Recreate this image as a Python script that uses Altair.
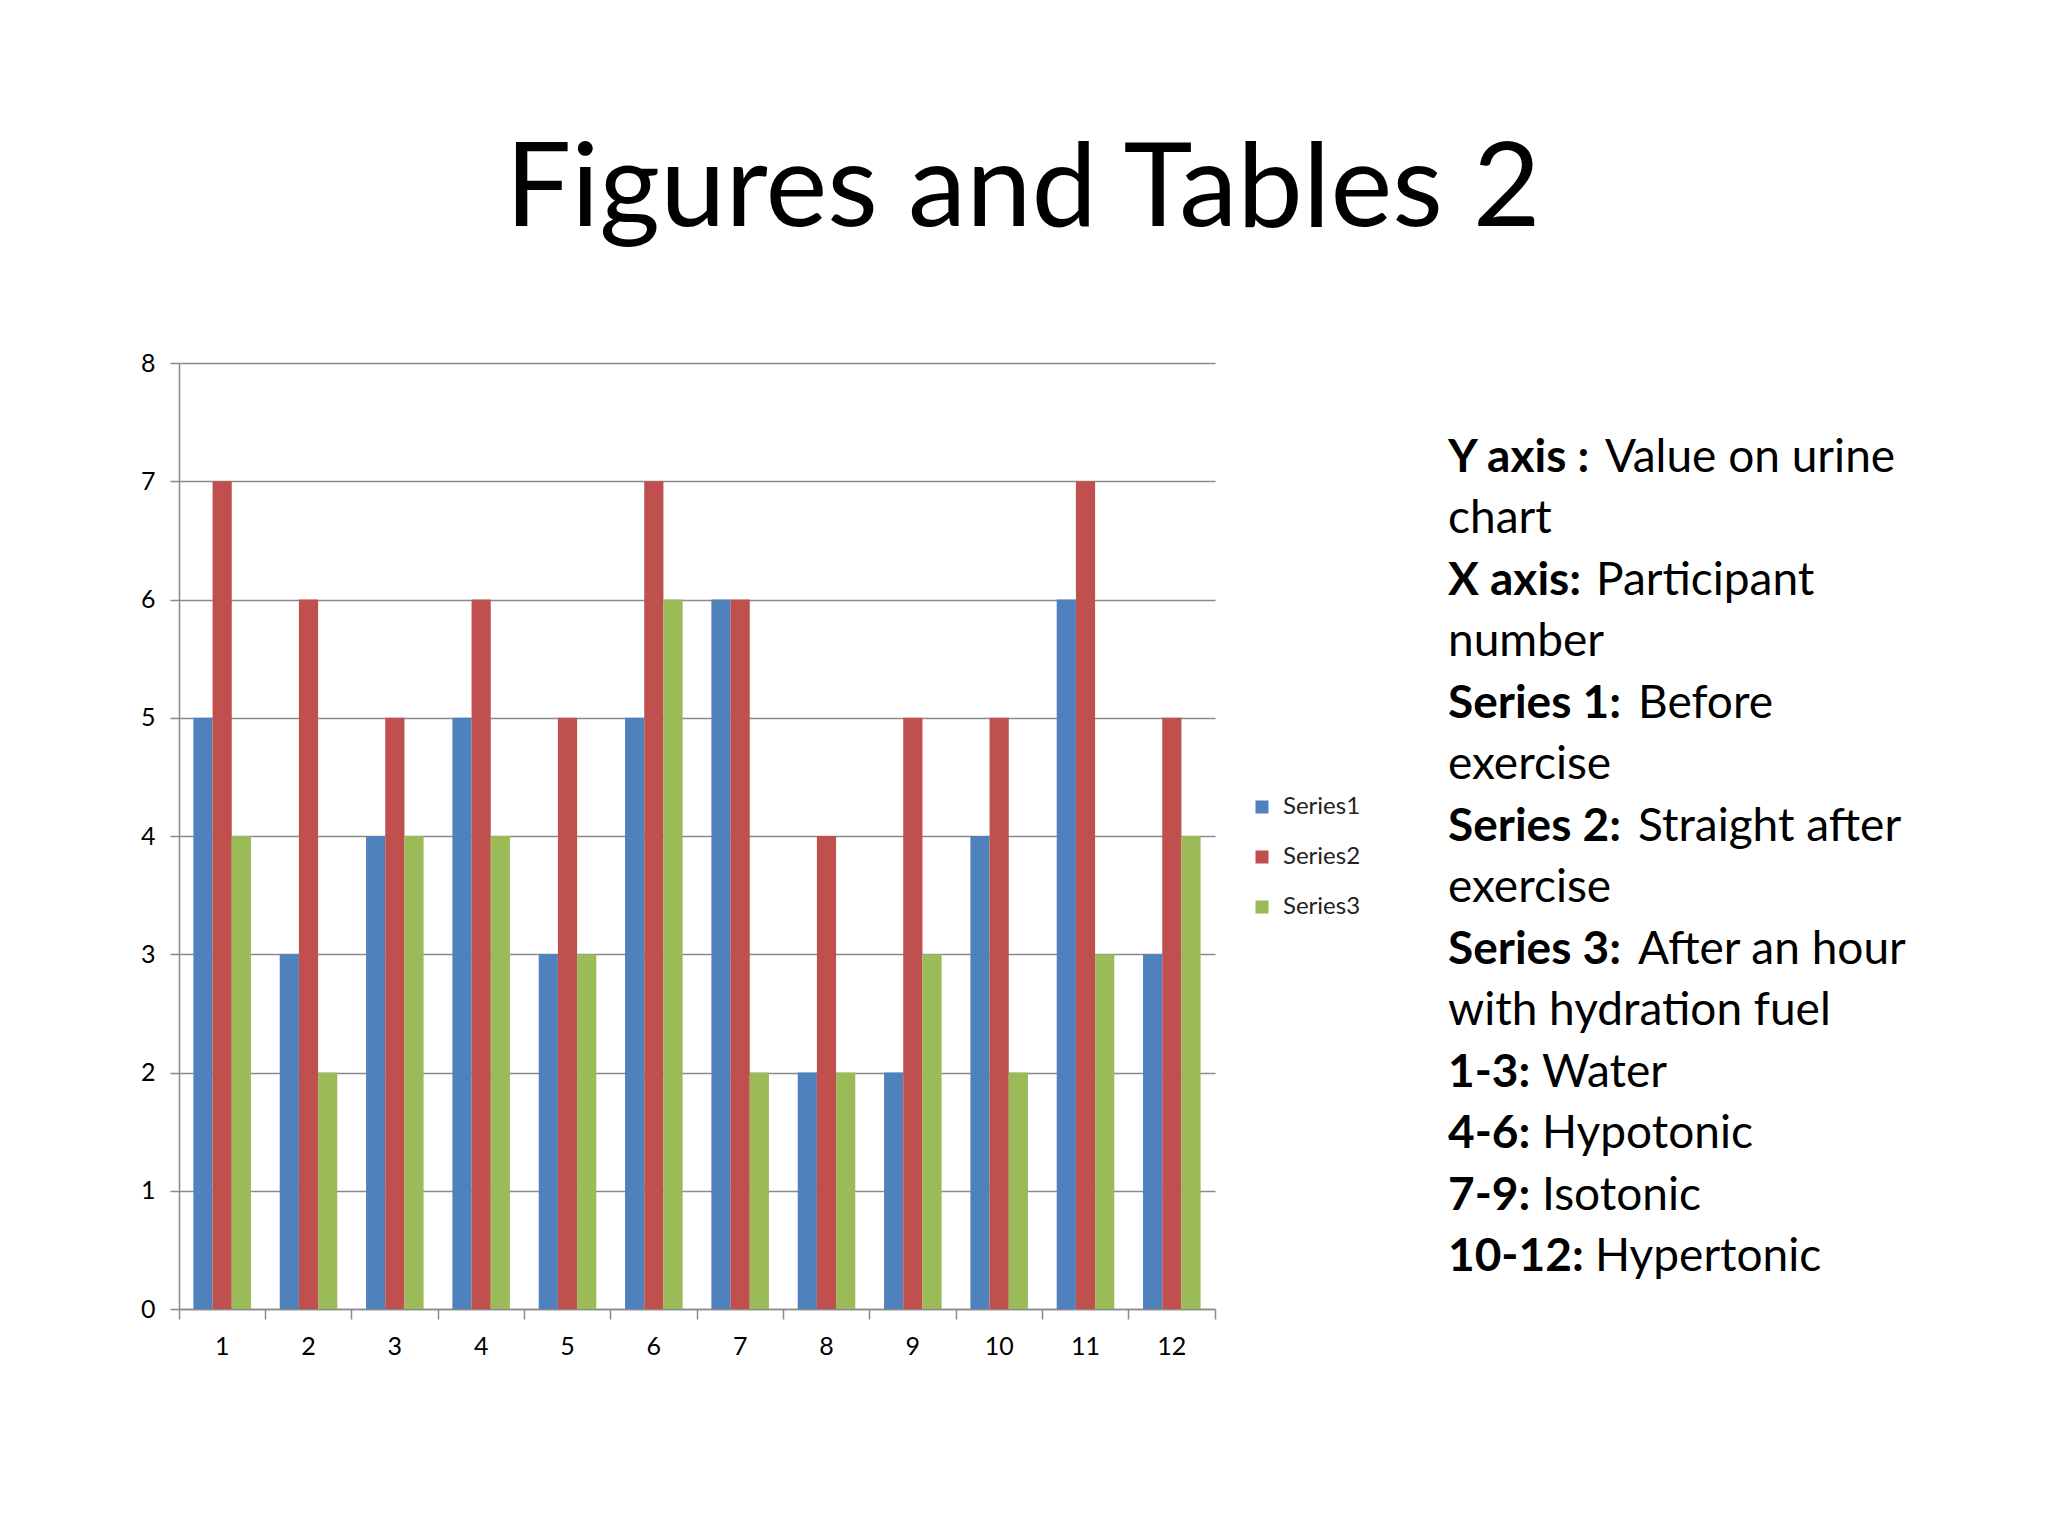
import altair as alt
import pandas as pd

participants = list(range(1, 13))
series1 = [5, 3, 4, 5, 3, 5, 6, 2, 2, 4, 6, 3]
series2 = [7, 6, 5, 6, 5, 7, 6, 4, 5, 5, 7, 5]
series3 = [4, 2, 4, 4, 3, 6, 2, 2, 3, 2, 3, 4]
series_names = ["Series1", "Series2", "Series3"]
series_colors = ["#4F81BD", "#C0504D", "#9BBB59"]
y_ticks = [0, 1, 2, 3, 4, 5, 6, 7, 8]

title_text = "Figures and Tables 2"
note_bold = ["Y axis :", "", "X axis:", "", "Series 1:", "", "Series 2:", "",
             "Series 3:", "", "1-3:", "4-6:", "7-9:", "10-12:"]
note_normal = ["Value on urine", "chart", "Participant", "number", "Before", "exercise",
               "Straight after", "exercise", "After an hour", "with hydration fuel",
               "Water", "Hypotonic", "Isotonic", "Hypertonic"]

rows = []
for p, a, b, c in zip(participants, series1, series2, series3):
    rows.append({"participant": p, "series": "Series1", "value": a})
    rows.append({"participant": p, "series": "Series2", "value": b})
    rows.append({"participant": p, "series": "Series3", "value": c})
df = pd.DataFrame(rows)

FONT = "Lato"
W, H = 1036, 946
GRID = "#8a8a8a"

bars = alt.Chart(df).mark_bar().encode(
    x=alt.X("participant:O", title=None,
            scale=alt.Scale(paddingInner=0, paddingOuter=0),
            axis=alt.Axis(labelAngle=0, labelFont=FONT, labelFontSize=25, labelColor="#000000",
                          domainColor=GRID, domainWidth=1.5, tickColor=GRID, tickWidth=1.5,
                          tickSize=10, labelPadding=15, bandPosition=1, tickExtra=True,
                          grid=False)),
    xOffset=alt.XOffset("series:N", scale=alt.Scale(paddingOuter=0.75, paddingInner=0)),
    y=alt.Y("value:Q", title=None,
            scale=alt.Scale(domain=[0, 8], nice=False),
            axis=alt.Axis(values=y_ticks, labelFont=FONT, labelFontSize=25, labelColor="#000000",
                          domainColor=GRID, domainWidth=1.5, tickColor=GRID, tickWidth=1.5,
                          tickSize=9, labelPadding=15, gridColor=GRID, gridWidth=1.5,
                          format="d")),
    color=alt.Color("series:N", scale=alt.Scale(domain=series_names, range=series_colors),
                    legend=alt.Legend(title=None, orient="none", legendX=1071, legendY=432,
                                      symbolType="square", symbolSize=170, symbolStrokeWidth=0,
                                      labelFont=FONT, labelFontSize=24, labelColor="#222222",
                                      labelOffset=9, rowPadding=26, padding=0)),
)

layers = [bars]
x0 = 1269
FS = 46
normal_x = [1426, 1269, 1417, 1269, 1459, 1269, 1459, 1269, 1459, 1269, 1363, 1363, 1363, 1416]
for i, (bt, nt) in enumerate(zip(note_bold, note_normal)):
    yb = 108.5 + 61.5 * i
    if bt:
        layers.append(alt.Chart(df.head(1)).mark_text(
            text=bt, font=FONT, fontSize=FS, fontWeight="bold", align="left",
            baseline="alphabetic", color="#000000"
        ).encode(x=alt.value(x0), y=alt.value(yb)))
    layers.append(alt.Chart(df.head(1)).mark_text(
        text=nt, font=FONT, fontSize=FS, fontWeight="normal", align="left",
        baseline="alphabetic", color="#000000"
    ).encode(x=alt.value(normal_x[i]), y=alt.value(yb)))

chart = alt.layer(*layers).properties(
    width=W, height=H,
    title=alt.TitleParams(title_text, font=FONT, fontSize=117, fontWeight="normal",
                          color="#000000", anchor="middle", frame="group", dx=326,
                          offset=8, baseline="alphabetic"),
    autosize=alt.AutoSizeParams(type="none"),
    padding={"left": 171, "top": 355, "right": 825, "bottom": 219},
).configure(background="#ffffff").configure_view(stroke=None)

chart.save("out.html", embed_options={"renderer": "svg", "actions": False})
